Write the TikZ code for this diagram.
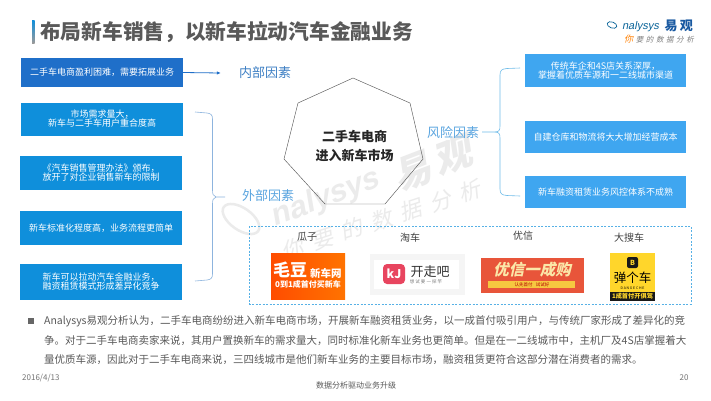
\documentclass[tikz,border=0pt]{standalone}
\usepackage{fontspec}
\setmainfont{Noto Sans CJK SC}
\newfontfamily\slantlatin[FakeSlant=0.2]{Liberation Sans}
\newfontfamily\slantcjk[FakeSlant=0.22]{Noto Sans CJK SC}
\usetikzlibrary{arrows.meta,shapes.geometric,calc}
\definecolor{boxdark}{HTML}{1F6FC9}
\definecolor{boxmid}{HTML}{0F8FDB}
\definecolor{boxlight}{HTML}{3FA6F0}
\definecolor{factor}{HTML}{3E80C4}
\definecolor{factorb}{HTML}{5AA5E0}
\definecolor{bracec}{HTML}{8DB4DE}
\definecolor{bodyc}{HTML}{595959}
\definecolor{wmc}{HTML}{EBEBEB}
\definecolor{yxbg}{HTML}{E8553A}
\definecolor{yxtext}{HTML}{FBE7A8}
\definecolor{yxstrip}{HTML}{F6C840}
\definecolor{dgy}{HTML}{FFD62B}
\definecolor{kjred}{HTML}{E8455F}
\newcommand{\fs}[1]{\fontsize{#1}{#1}\selectfont}
\tikzset{
 x=1pt,y=-1pt,
 leftbox/.style={inner sep=0pt,minimum width=162pt,align=center,text=white,font=\fs{9},draw=none},
 rightbox/.style={inner sep=0pt,minimum width=161pt,align=center,text=white,font=\fs{9},fill=boxlight},
 factorlabel/.style={font=\fs{13},inner sep=0pt},
 brandlabel/.style={font=\fs{10},text=black!75,inner sep=0pt},
 bodyline/.style={anchor=west,font=\fs{10.5},text=bodyc,inner sep=0pt},
 wm/.style={text=wmc,inner sep=0pt},
}
\begin{document}
\begin{tikzpicture}
\useasboundingbox (0,0) rectangle (711,400);
\fill[white] (0,0) rectangle (711,400);
% watermark
\node[wm,rotate=21,font=\fs{31}\slantlatin\bfseries] (wmA) at (325,199) {nalysys};
\node[wm,rotate=21,font=\fs{38}\slantcjk\bfseries] (wmE) at (432,164) {易\hspace{5pt}观};
\node[wm,rotate=18,font=\fs{22}\slantcjk] (wmB) at (381,220) {你\hspace{9pt}要\hspace{9pt}的\hspace{9pt}数\hspace{9pt}据\hspace{9pt}分\hspace{9pt}析};
\draw[wmc,line width=2.5pt,rotate around={-35:(241,219)}] (241,219) ellipse[x radius=21,y radius=11];
% title
\shade[top color=boxmid,bottom color=black!40] (32,20) rectangle (34.5,43);
\node[anchor=west,inner sep=0pt,font=\fs{20.7}\bfseries,text=black!65] (title) at (40,32) {布局新车销售，以新车拉动汽车金融业务};
% logo
\draw[boxmid!70!black,line width=0.7pt,rotate around={-20:(612,25)}] (612,25) ellipse[x radius=5,y radius=3];
\node[anchor=east,inner sep=0pt,font=\fs{11}\slantlatin,text=boxmid!70!black] (logoA) at (659,27) {nalysys};
\node[anchor=east,inner sep=0pt,font=\fs{13}\bfseries,text=boxdark!80!black] (logoB) at (693,26) {易\,观};
\node[anchor=east,inner sep=0pt,font=\fs{7.5}\slantcjk,text=black!50] (logoC) at (694,39.5) {\textcolor{orange}{\fs{9}你}\hspace{2.6pt}要\hspace{2.6pt}的\hspace{2.6pt}数\hspace{2.6pt}据\hspace{2.6pt}分\hspace{2.6pt}析};
% left boxes
\node[leftbox,fill=boxdark,minimum height=29pt] (b1) at (102,72.5) {二手车电商盈利困难，需要拓展业务};
\node[leftbox,fill=boxmid,minimum height=33pt] (b2) at (102,119) {市场需求量大，\\新车与二手车用户重合度高};
\node[leftbox,fill=boxmid,minimum height=34pt] (b3) at (101,173) {《汽车销售管理办法》颁布，\\放开了对企业销售新车的限制};
\node[leftbox,fill=boxmid,minimum height=34pt] (b4) at (101,228) {新车标准化程度高，业务流程更简单};
\node[leftbox,fill=boxmid,minimum height=36pt] (b5) at (101,282) {新车可以拉动汽车金融业务，\\融资租赁模式形成差异化竞争};
% right boxes
\node[rightbox,minimum height=33pt] (r1) at (605.5,70.5) {传统车企和4S店关系深厚，\\掌握着优质车源和一二线城市渠道};
\node[rightbox,minimum height=32pt] (r2) at (605.5,137) {自建仓库和物流将大大增加经营成本};
\node[rightbox,minimum height=32pt] (r3) at (605.5,192) {新车融资租赁业务风控体系不成熟};
% factor labels
\node[factorlabel,text=factor] (inner) at (265,73) {内部因素};
\node[factorlabel,text=factorb] (outer) at (268,196) {外部因素};
\node[factorlabel,text=factorb] (risk) at (453,133) {风险因素};
\draw[boxdark,line width=0.8pt,-{Latex[length=4pt,width=3.5pt]}] (b1.east) -- ($(inner.west)+(-18,0)$);
% centre
\draw[black!65,line width=0.45pt] (353,78) coordinate (h1) -- (410,103) -- (423,159) -- (385,204) -- (325,204) -- (284,159) -- (298,103) -- cycle;
\node[align=center,font=\fs{13}\bfseries,text=black!85,inner sep=0pt] (centre) at (354.5,146.5) {二手车电商\\[6pt]进入新车市场};
% braces
\coordinate (la) at (195,112); \coordinate (lb) at (195,281); \coordinate (lt) at (225,197);
\draw[bracec,line width=0.6pt] (la) -- (207,113) .. controls (211,113.5) and (212.5,115) .. (212.5,119) -- (212.5,190) .. controls (212.5,194) and (213,196) .. (216,197) -- (lt);
\draw[bracec,line width=0.6pt] (lb) -- (207,280) .. controls (211,279.5) and (212.5,278) .. (212.5,274) -- (212.5,204) .. controls (212.5,200) and (213,198) .. (216,197);
\coordinate (ra) at (520,68); \coordinate (rb) at (520,196); \coordinate (rt) at (482,132);
\draw[boxmid!60,line width=0.6pt] (ra) -- (507,68.5) .. controls (502,69) and (500,70) .. (500,75) -- (500,126) .. controls (500,130) and (499,132) .. (495,132) -- (rt);
\draw[boxmid!60,line width=0.6pt] (rb) -- (507,195.5) .. controls (502,195) and (500,194) .. (500,189) -- (500,138) .. controls (500,134) and (499,132) .. (495,132);
% brands
\draw[boxmid!70,line width=0.6pt,dash pattern=on 2pt off 1.5pt] (249.5,226) rectangle (691,304);
\node[brandlabel] (lguazi) at (307,237) {瓜子};
\node[brandlabel] (ltaoche) at (410,238) {淘车};
\node[brandlabel] (lyouxin) at (523,236) {优信};
\node[brandlabel] (ldasou) at (629,238) {大搜车};
% maodou
\shade[left color=orange!60!red,right color=orange!90!red] (271,253) rectangle (345,299);
\node[text=white,font=\fs{17}\bfseries,anchor=west,inner sep=0pt] (md1) at (273,270) {毛豆};
\node[text=white,font=\fs{10.5}\bfseries,anchor=west,inner sep=0pt] (md2) at (310,273) {新车网};
\node[text=white,font=\fs{8}\bfseries,inner sep=0pt] (md3) at (308,284.5) {0到1成首付买新车};
% kaizouba
\fill[black!4] (370,254) rectangle (465,295);
\fill[white] (374,260) rectangle (459,289);
\fill[kjred,rounded corners=4pt] (383,264) rectangle (405,284);
\node[text=white,font=\fs{12}\bfseries,inner sep=0pt] (kzicon) at (394,274) {kJ};
\node[text=black!80,font=\fs{13},inner sep=0pt] (kz1) at (430,272) {开走吧};
\node[text=black!50,font=\fs{4.5},inner sep=0pt] (kz2) at (426,281.5) {想 试 要 一 探 竿};
% youxin
\fill[yxbg] (481,258) rectangle (584,293);
\fill[yxstrip] (488,281) rectangle (575,288);
\node[text=yxtext,font=\fs{15.5}\slantcjk\bfseries,inner sep=0pt] (yx1) at (532,270) {优信一成购};
\node[text=red!70!black,font=\fs{4.5},inner sep=0pt] (yx2) at (532,284.5) {认先首付\ \ \ 试试好};
% dangeche
\fill[dgy] (610,253) rectangle (655,292);
\fill[black!90] (610,292) rectangle (655,301);
\fill[black!90,rounded corners=2pt] (627,257) rectangle (638,268);
\node[text=dgy,font=\fs{7}\bfseries,inner sep=0pt] (dgicon) at (632.5,262.5) {B};
\node[text=black,font=\fs{12.5},inner sep=0pt] (dg1) at (632.5,278) {弹个车};
\node[text=black,font=\fs{3.5},inner sep=0pt] (dg3) at (632.5,288) {D A N G E C H E};
\node[text=dgy,font=\fs{6.2}\bfseries,inner sep=0pt] (dg2) at (632.5,296.5) {1成首付开俱驾};
% body
\fill[black!60] (28,318) rectangle (34,324);
\node[bodyline] (t1) at (44,321.5) {Analysys易观分析认为，二手车电商纷纷进入新车电商市场，开展新车融资租赁业务，以一成首付吸引用户，与传统厂家形成了差异化的竞};
\node[bodyline] (t2) at (44,340.5) {争。对于二手车电商卖家来说，其用户置换新车的需求量大，同时标准化新车业务也更简单。但是在一二线城市中，主机厂及4S店掌握着大};
\node[bodyline] (t3) at (44,359.5) {量优质车源，因此对于二手车电商来说，三四线城市是他们新车业务的主要目标市场，融资租赁更符合这部分潜在消费者的需求。};
% footer
\node[anchor=west,font=\fs{8},text=black!55,inner sep=0pt] (date) at (22,378) {2016/4/13};
\node[font=\fs{8},text=black!65,inner sep=0pt] (foot) at (356,385) {数据分析驱动业务升级};
\node[font=\fs{8},text=black!55,inner sep=0pt] (page) at (684,378) {20};
\end{tikzpicture}
\end{document}
